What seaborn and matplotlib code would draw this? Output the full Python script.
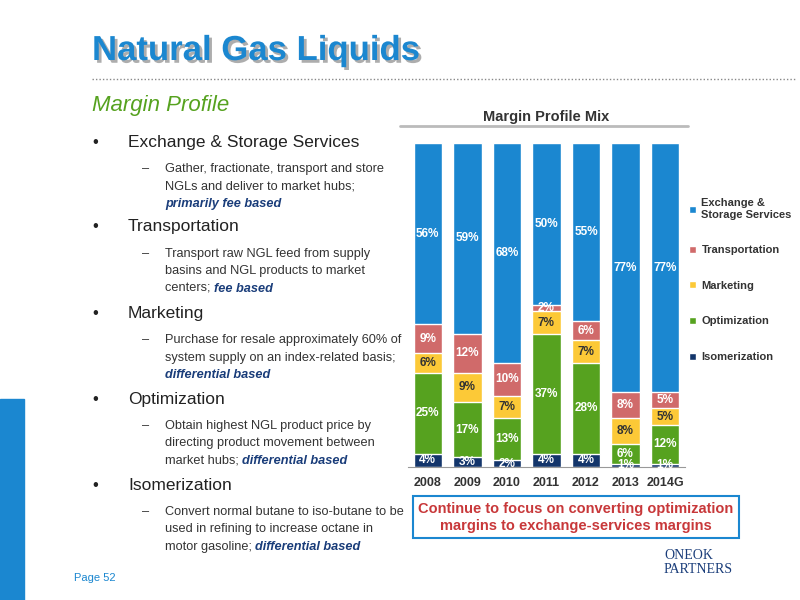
import numpy as np
import pandas as pd
import seaborn as sns
import matplotlib.pyplot as plt
import matplotlib.patheffects as pe
from matplotlib.patches import Rectangle

years = ["2008", "2009", "2010", "2011", "2012", "2013", "2014G"]
isomerization = [4, 3, 2, 4, 4, 1, 1]
optimization = [25, 17, 13, 37, 28, 6, 12]
marketing = [6, 9, 7, 7, 7, 8, 5]
transportation = [9, 12, 10, 2, 6, 8, 5]
exchange = [56, 59, 68, 50, 55, 77, 77]

series = ["Isomerization", "Optimization", "Marketing", "Transportation", "Exchange &\nStorage Services"]
colors = ["#13356b", "#56a21f", "#fcc937", "#d06a6a", "#1b87d0"]
label_colors = ["white", "white", "#333333", "white", "white"]

df = pd.DataFrame({"year": years, series[0]: isomerization, series[1]: optimization,
                   series[2]: marketing, series[3]: transportation, series[4]: exchange})
vals = df[series].values
cum = vals.cumsum(axis=1)

sns.set_style("white")
plt.rcParams["font.family"] = ["Liberation Sans", "DejaVu Sans"]
fig = plt.figure(figsize=(8, 6), dpi=100)

# slide decorations
fig.text(0.115, 0.9, "Natural Gas Liquids", fontsize=25, weight="bold", color="#1b87d0",
         path_effects=[pe.withSimplePatchShadow(offset=(2, -2), shadow_rgbFace="#999999", alpha=0.8)])
fig.add_artist(plt.Line2D([0.115, 0.995], [0.868, 0.868], color="#888888", lw=1, ls=(0, (1, 1.5))))
fig.text(0.115, 0.815, "Margin Profile", fontsize=16, style="italic", color="#56a21f")
fig.add_artist(Rectangle((0, 0), 0.03, 0.335, color="#1b87d0", transform=fig.transFigure))
fig.text(0.093, 0.032, "Page 52", fontsize=8, color="#1b87d0")

bullets = [
    (0.755, "Exchange & Storage Services", [("Gather, fractionate, transport and store", 0.713), ("NGLs and deliver to market hubs;", 0.684)], "primarily fee based", 0.655, None),
    (0.615, "Transportation", [("Transport raw NGL feed from supply", 0.572), ("basins and NGL products to market", 0.543)], "fee based", 0.514, "centers; "),
    (0.47, "Marketing", [("Purchase for resale approximately 60% of", 0.428), ("system supply on an index-related basis;", 0.399)], "differential based", 0.37, None),
    (0.327, "Optimization", [("Obtain highest NGL product price by", 0.285), ("directing product movement between", 0.256)], "differential based", 0.227, "market hubs; "),
    (0.184, "Isomerization", [("Convert normal butane to iso-butane to be", 0.142), ("used in refining to increase octane in", 0.113)], "differential based", 0.084, "motor gasoline; "),
]
fs = 9.2
for y, head, lines, em, ey, pre in bullets:
    fig.text(0.115, y, "\u2022", fontsize=12, color="#222222")
    fig.text(0.16, y, head, fontsize=12.5, color="#222222")
    fig.text(0.178, lines[0][1], "\u2013", fontsize=fs, color="#333333")
    for t, ly in lines:
        fig.text(0.206, ly, t, fontsize=fs, color="#333333")
    if pre:
        tx = fig.text(0.206, ey, pre, fontsize=fs, color="#333333")
        fig.canvas.draw()
        bb = tx.get_window_extent()
        fig.text(bb.x1 / 800, ey, em, fontsize=fs, color="#1a3d7a", style="italic", weight="bold")
    else:
        fig.text(0.206, ey, em, fontsize=fs, color="#1a3d7a", style="italic", weight="bold")

# chart
ax = fig.add_axes([0.51, 0.222, 0.346, 0.54])
for i in range(len(series) - 1, -1, -1):
    sns.barplot(x=df["year"], y=cum[:, i], color=colors[i], width=0.72, saturation=1,
                ax=ax, label=series[i])
for j in range(len(years)):
    for i in range(len(series)):
        mid = cum[j, i] - vals[j, i] / 2
        ax.text(j, mid, f"{vals[j, i]}%", ha="center", va="center", fontsize=8.5,
                weight="bold", color=label_colors[i])
ax.set_ylim(0, 100)
ax.set_xlim(-0.5, 6.5)
ax.set_yticks([])
ax.set_xlabel("")
ax.set_ylabel("")
for s in ["left", "right", "top"]:
    ax.spines[s].set_visible(False)
ax.spines["bottom"].set_color("#999999")
ax.tick_params(axis="x", length=4, color="#999999", labelsize=9)
for lab in ax.get_xticklabels():
    lab.set_fontweight("bold")
    lab.set_color("#333333")
ax.set_title("Margin Profile Mix", fontsize=10.5, weight="bold", color="#333333", pad=16)
fig.add_artist(plt.Line2D([0.5, 0.86], [0.79, 0.79], color="#bbbbbb", lw=2))

handles, labels = ax.get_legend_handles_labels()
leg = ax.legend(handles, labels, loc="upper left", bbox_to_anchor=(0.98, 0.86), frameon=False,
                fontsize=8, labelspacing=2.3, handlelength=0.6, handleheight=0.6, handletextpad=0.5)
for t in leg.get_texts():
    t.set_fontweight("bold")
    t.set_color("#333333")

fig.text(0.72, 0.138, "Continue to focus on converting optimization\nmargins to exchange-services margins",
         ha="center", va="center", fontsize=10.5, weight="bold", color="#c8383a", linespacing=1.3,
         bbox=dict(boxstyle="square,pad=0.35", fc="white", ec="#1b87d0", lw=1.5))

fig.text(0.83, 0.045, "ONEOK\nPARTNERS", fontsize=10, color="#1a3d7a", family="Liberation Serif", linespacing=1.1)

fig.savefig("out.png", dpi=100)
